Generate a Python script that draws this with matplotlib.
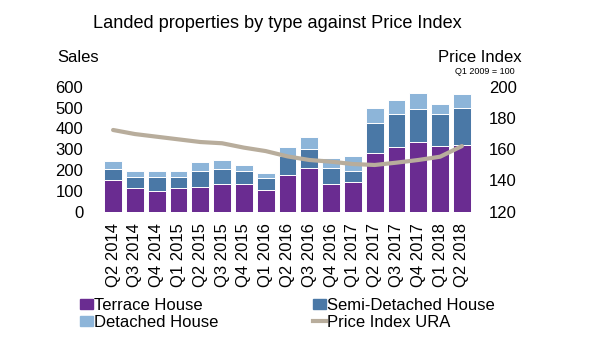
import numpy as np
import matplotlib.pyplot as plt
from matplotlib.patches import Patch
from matplotlib.lines import Line2D

plt.rcParams['font.family'] = ['Liberation Sans', 'DejaVu Sans']

# data
quarters = ['Q2 2014', 'Q3 2014', 'Q4 2014', 'Q1 2015', 'Q2 2015', 'Q3 2015',
            'Q4 2015', 'Q1 2016', 'Q2 2016', 'Q3 2016', 'Q4 2016', 'Q1 2017',
            'Q2 2017', 'Q3 2017', 'Q4 2017', 'Q1 2018', 'Q2 2018']
terrace = [152, 112, 98, 112, 119, 134, 134, 106, 178, 211, 131, 144,
           282, 312, 333, 315, 322]
semi = [53, 56, 67, 56, 78, 71, 63, 57, 91, 90, 79, 50,
        145, 157, 158, 154, 177]
detached = [38, 27, 30, 27, 40, 42, 29, 24, 40, 59, 49, 75,
            72, 69, 79, 49, 64]
price_index = [172.3, 169.7, 168.0, 166.3, 164.6, 163.8, 161.0, 158.8, 155.4,
               153.1, 152.0, 150.5, 149.9, 151.4, 153.1, 155.2, 162.0]

c_terrace = '#6a2c91'
c_semi = '#4a78a6'
c_det = '#8db5d9'
c_line = '#b8ad9c'

fig = plt.figure(figsize=(6, 3.61), dpi=100)
ax = fig.add_axes([100 / 600, 1 - 211.7 / 361, 375 / 600, 125 / 361])
ax2 = ax.twinx()

x = np.arange(len(quarters))
w = 0.82
ax.bar(x, terrace, w, color=c_terrace, edgecolor='white', linewidth=0.7)
ax.bar(x, semi, w, bottom=terrace, color=c_semi, edgecolor='white', linewidth=0.7)
bottom2 = np.array(terrace) + np.array(semi)
ax.bar(x, detached, w, bottom=bottom2, color=c_det, edgecolor='white', linewidth=0.7)
ax2.plot(x, price_index, color=c_line, linewidth=3, solid_capstyle='round')

ax.set_xlim(-0.6, len(quarters) - 0.4)
ax.set_ylim(0, 600)
ax2.set_ylim(120, 200)
ax.set_yticks(range(0, 601, 100))
ax2.set_yticks(range(120, 201, 20))
ax.set_xticks(x, quarters, rotation=90)

for a in (ax, ax2):
    for s in a.spines.values():
        s.set_visible(False)
    a.tick_params(length=0, labelsize=12)
ax.tick_params(axis='y', pad=12)
ax2.tick_params(axis='y', pad=10)
ax.tick_params(axis='x', pad=8)

fig.text(277 / 600, 1 - 23 / 361, 'Landed properties by type against Price Index',
         ha='center', va='center', fontsize=13.1)
fig.text(78 / 600, 1 - 57 / 361, 'Sales', ha='center', va='center', fontsize=12)
fig.text(522 / 600, 1 - 57 / 361, 'Price Index', ha='right', va='center', fontsize=12)
fig.text(515 / 600, 1 - 71 / 361, 'Q1 2009 = 100', ha='right', va='center', fontsize=6.5)

handles = [Patch(color=c_terrace), Patch(color=c_semi),
           Patch(color=c_det), Line2D([], [], color=c_line, linewidth=3)]
labels = ['Terrace House', 'Semi-Detached House', 'Detached House', 'Price Index URA']
fig.legend([handles[0], handles[2], handles[1], handles[3]],
           [labels[0], labels[2], labels[1], labels[3]],
           ncol=2, loc='upper left', bbox_to_anchor=(80 / 600, 1 - 298 / 361),
           frameon=False, fontsize=12, handlelength=0.8, handleheight=0.6,
           handletextpad=0.05, columnspacing=5.65, labelspacing=0.1,
           borderpad=0, borderaxespad=0)

fig.savefig('out.png', dpi=100)
